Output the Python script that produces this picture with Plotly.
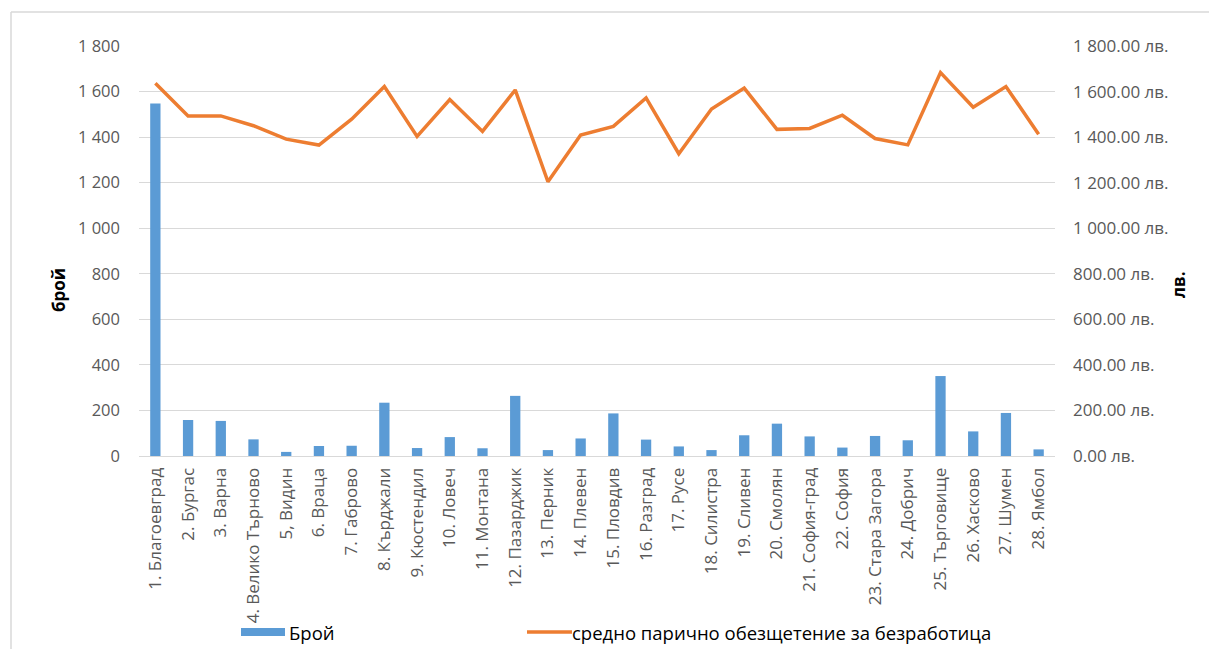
import plotly.graph_objects as go

categories = ["1. Благоевград", "2. Бургас", "3. Варна", "4. Велико Търново", "5, Видин",
              "6. Враца", "7. Габрово", "8. Кърджали", "9. Кюстендил", "10. Ловеч",
              "11. Монтана", "12. Пазарджик", "13. Перник", "14. Плевен", "15. Пловдив",
              "16. Разград", "17. Русе", "18. Силистра", "19. Сливен", "20. Смолян",
              "21. София-град", "22. София", "23. Стара Загора", "24. Добрич",
              "25. Търговище", "26. Хасково", "27. Шумен", "28. Ямбол"]

count_values = [1548, 158, 154, 73, 18, 44, 45, 234, 35, 83, 34, 264, 26, 77,
                187, 72, 42, 26, 91, 142, 86, 37, 88, 69, 351, 108, 189, 29]

avg_benefit = [1636, 1493, 1493, 1450, 1391, 1365, 1479, 1622, 1403, 1565, 1425, 1607,
               1204, 1409, 1447, 1572, 1327, 1523, 1615, 1434, 1438, 1496, 1394, 1366,
               1683, 1531, 1622, 1413]

tick_vals = [0, 200, 400, 600, 800, 1000, 1200, 1400, 1600, 1800]
left_tick_text = ["0", "200", "400", "600", "800", "1 000", "1 200", "1 400", "1 600", "1 800"]
right_tick_text = ["0.00 лв.", "200.00 лв.", "400.00 лв.", "600.00 лв.", "800.00 лв.",
                   "1 000.00 лв.", "1 200.00 лв.", "1 400.00 лв.", "1 600.00 лв.", "1 800.00 лв."]

bar_name = "Брой"
line_name = "средно парично обезщетение за безработица"
left_title = "брой"
right_title = "лв."

FONT = "Open Sans"
TICK_COLOR = "#595959"
BAR_COLOR = "#5B9BD5"
LINE_COLOR = "#ED7D31"

# the page body has an 8px default margin; work in window pixels and shift
OFF = 8
W, H = 1217 - OFF, 649 - OFF
# plot area in window pixels: x 139..1055, y 46..456
L, R, T, B = 139, 1055, 46, 456
def px(x):
    return (x - L) / (R - L)
def py(y):
    return (B - y) / (B - T)

fig = go.Figure()
fig.add_trace(go.Bar(x=categories, y=count_values, name=bar_name,
                     marker=dict(color=BAR_COLOR, line=dict(width=0)), yaxis="y"))
fig.add_trace(go.Scatter(x=categories, y=avg_benefit, name=line_name,
                         mode="lines", line=dict(color=LINE_COLOR, width=3.5), yaxis="y2"))

fig.update_layout(
    width=W, height=H,
    margin=dict(l=L - OFF, r=1217 - R, t=T - OFF, b=649 - B, autoexpand=False),
    paper_bgcolor="white", plot_bgcolor="white",
    font=dict(family=FONT, size=17, color=TICK_COLOR),
    bargap=0.685,
    showlegend=False,
    xaxis=dict(type="category", tickangle=-90, showgrid=False, showline=True,
               linecolor="#D9D9D9", linewidth=1, ticks="", ticklabelstandoff=4,
               tickfont=dict(family=FONT, size=17, color=TICK_COLOR)),
    yaxis=dict(range=[0, 1800], tickvals=tick_vals, ticktext=left_tick_text,
               showgrid=True, gridcolor="#D9D9D9", gridwidth=1, zeroline=False,
               showline=False, ticks="", ticklabelstandoff=18,
               tickfont=dict(family=FONT, size=16.5, color=TICK_COLOR)),
    yaxis2=dict(range=[0, 1800], tickvals=tick_vals, ticktext=right_tick_text,
                overlaying="y", side="right", showgrid=False, zeroline=False,
                showline=False, ticks="", ticklabelstandoff=17,
                tickfont=dict(family=FONT, size=17, color=TICK_COLOR)),
    annotations=[
        dict(text="<b>" + left_title + "</b>", xref="paper", yref="paper", x=px(58), y=py(290),
             showarrow=False, textangle=-90, font=dict(family=FONT, size=17, color="black"),
             xanchor="center", yanchor="middle"),
        dict(text="<b>" + right_title + "</b>", xref="paper", yref="paper", x=px(1178), y=py(285),
             showarrow=False, textangle=-90, font=dict(family=FONT, size=17, color="black"),
             xanchor="center", yanchor="middle"),
        dict(text=bar_name, xref="paper", yref="paper", x=px(287), y=py(632),
             showarrow=False, font=dict(family=FONT, size=18.5, color="black"),
             xanchor="left", yanchor="middle"),
        dict(text=line_name, xref="paper", yref="paper", x=px(570), y=py(632),
             showarrow=False, font=dict(family=FONT, size=18.5, color="black"),
             xanchor="left", yanchor="middle"),
    ],
    shapes=[
        dict(type="line", xref="paper", yref="paper", x0=px(11), x1=px(11),
             y0=py(12), y1=py(660), line=dict(color="#D9D9D9", width=1.5)),
        dict(type="line", xref="paper", yref="paper", x0=px(11), x1=px(1230),
             y0=py(12), y1=py(12), line=dict(color="#D9D9D9", width=1.5)),
        dict(type="rect", xref="paper", yref="paper", x0=px(241), x1=px(285),
             y0=py(636), y1=py(628), fillcolor=BAR_COLOR, line=dict(width=0)),
        dict(type="line", xref="paper", yref="paper", x0=px(527), x1=px(572),
             y0=py(632), y1=py(632), line=dict(color=LINE_COLOR, width=3.5)),
    ],
)

fig.write_html("out.html")
